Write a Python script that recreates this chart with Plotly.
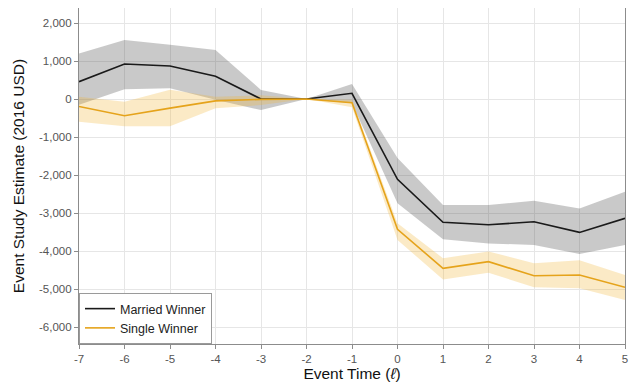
import plotly.graph_objects as go

event_time = [-7, -6, -5, -4, -3, -2, -1, 0, 1, 2, 3, 4, 5]

married_est = [455, 920, 870, 600, 0, 0, 150, -2115, -3245, -3310, -3230, -3510, -3140]
married_upper = [1200, 1550, 1430, 1290, 240, 0, 395, -1550, -2790, -2790, -2680, -2880, -2440]
married_lower = [-150, 260, 280, -20, -290, 0, -110, -2740, -3690, -3800, -3840, -4080, -3840]

single_est = [-195, -440, -240, -50, -10, 0, -100, -3430, -4456, -4280, -4650, -4630, -4955]
single_upper = [60, -70, 245, 60, 100, 0, -20, -3270, -4190, -4010, -4320, -4240, -4630]
single_lower = [-600, -720, -720, -245, -160, 0, -220, -3710, -4750, -4570, -4955, -4980, -5290]

x_ticks = [-7, -6, -5, -4, -3, -2, -1, 0, 1, 2, 3, 4, 5]
x_tick_text = ["-7", "-6", "-5", "-4", "-3", "-2", "-1", "0", "1", "2", "3", "4", "5"]
y_ticks = [2000, 1000, 0, -1000, -2000, -3000, -4000, -5000, -6000]
y_tick_text = ["2,000", "1,000", "0", "-1,000", "-2,000", "-3,000", "-4,000", "-5,000", "-6,000"]

BLACK = "#1a1a1a"
ORANGE = "#E5A31B"

fig = go.Figure()

# Married band
fig.add_trace(go.Scatter(x=event_time, y=married_upper, mode="lines",
                         line=dict(width=0), showlegend=False, hoverinfo="skip"))
fig.add_trace(go.Scatter(x=event_time, y=married_lower, mode="lines",
                         line=dict(width=0), fill="tonexty",
                         fillcolor="rgba(60,60,60,0.28)", showlegend=False, hoverinfo="skip"))
# Single band
fig.add_trace(go.Scatter(x=event_time, y=single_upper, mode="lines",
                         line=dict(width=0), showlegend=False, hoverinfo="skip"))
fig.add_trace(go.Scatter(x=event_time, y=single_lower, mode="lines",
                         line=dict(width=0), fill="tonexty",
                         fillcolor="rgba(240,180,50,0.28)", showlegend=False, hoverinfo="skip"))

fig.add_trace(go.Scatter(x=event_time, y=married_est, mode="lines",
                         line=dict(color=BLACK, width=1.6), name="Married Winner"))
fig.add_trace(go.Scatter(x=event_time, y=single_est, mode="lines",
                         line=dict(color=ORANGE, width=1.6), name="Single Winner"))

FONT = "Liberation Sans, Arial, Helvetica, sans-serif"

# page body has an 8px default margin, so the figure is sized to fit the window
fig.update_layout(
    width=631, height=379,
    margin=dict(l=71, r=14, t=0, b=43),
    paper_bgcolor="white", plot_bgcolor="white",
    font=dict(family=FONT, color="#222222"),
    showlegend=True,
    legend=dict(x=0, y=0, xanchor="left", yanchor="bottom",
                bgcolor="white", bordercolor="#9a9a9a", borderwidth=1,
                font=dict(size=12.5, color="#222222"),
                traceorder="normal", tracegroupgap=0, itemwidth=30),
    xaxis=dict(
        range=[-7, 5], tickmode="array", tickvals=x_ticks, ticktext=x_tick_text,
        showgrid=True, gridcolor="#e6e6e6", gridwidth=1,
        showline=True, linecolor="#8c8c8c", linewidth=1.2, mirror=True,
        ticks="outside", ticklen=4, tickcolor="#8c8c8c", tickwidth=1,
        tickfont=dict(size=11.5, color="#555555"),
        title=dict(text="Event Time (<i>ℓ</i>)", font=dict(size=15.5, color="#111111"), standoff=3),
        zeroline=False,
    ),
    yaxis=dict(
        range=[-6447, 2395], tickmode="array", tickvals=y_ticks, ticktext=y_tick_text,
        showgrid=True, gridcolor="#e6e6e6", gridwidth=1,
        showline=True, linecolor="#8c8c8c", linewidth=1.2, mirror=True,
        ticks="outside", ticklen=4, tickcolor="#8c8c8c", tickwidth=1,
        tickfont=dict(size=11.5, color="#555555"),
        title=dict(text="Event Study Estimate (2016 USD)", font=dict(size=15.5, color="#111111"), standoff=10),
        zeroline=False,
    ),
)

fig.write_html("out.html")
